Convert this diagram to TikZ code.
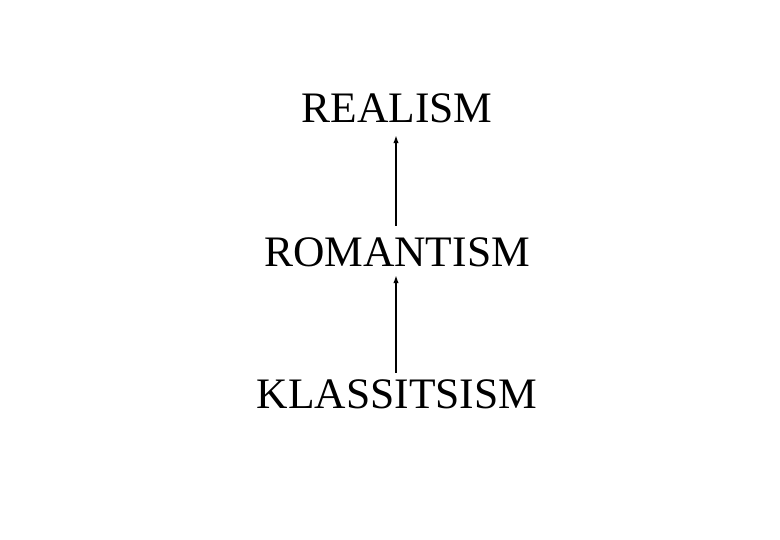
\documentclass[tikz,border=0pt]{standalone}
\usepackage{fontspec}
\setmainfont{Liberation Serif}
\usetikzlibrary{arrows.meta}
\begin{document}
\begin{tikzpicture}[x=1bp,y=-1bp,
  label/.style={anchor=base,inner sep=0pt,font=\fontsize{43.5bp}{50bp}\selectfont,text height=29bp,text depth=0pt},
  conn/.style={line width=1.4bp,-{Latex[length=8bp,width=5.5bp]}}]
\fill[white] (0,0) rectangle (780,540);
\useasboundingbox (0,0) rectangle (780,540);
\node[label] (real) at (397,123) {REALISM};
\node[label] (rom) at (397,267) {ROMANTISM};
\node[label] (kla) at (397,408) {KLASSITSISM};
\draw[conn] ([xshift=-1bp,yshift=12bp]rom.north) -- ([xshift=-1bp,yshift=-12bp]real.south);
\draw[conn] ([xshift=-1bp,yshift=6bp]kla.north) -- ([xshift=-1bp,yshift=-8bp]rom.south);
\end{tikzpicture}
\end{document}
